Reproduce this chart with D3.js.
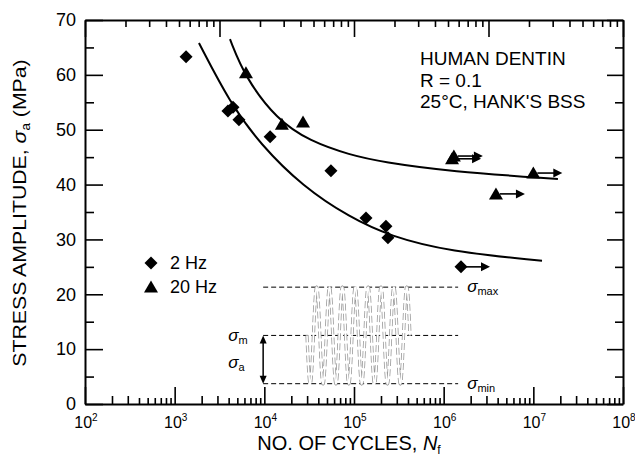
<!DOCTYPE html>
<html>
<head>
<meta charset="utf-8">
<script src="https://cdn.jsdelivr.net/npm/d3@7"></script>
<style>
  body { margin: 0; background: #fff; }
  svg { display: block; font-family: "Liberation Sans", Arial, Helvetica, sans-serif; }
</style>
</head>
<body>
<div id="chart"></div>
<script>
// 2 Hz tests (diamonds)
const cycles2Hz = [1340, 3930, 4470, 5210, 11600, 55300, 136000, 227000, 239000, 1560000]
const stress2Hz = [63.3, 53.4, 54.1, 51.8, 48.7, 42.5, 33.9, 32.4, 30.3, 25.0]
const runout2Hz = [false, false, false, false, false, false, false, false, false, true]

// 20 Hz tests (triangles)
const cycles20Hz = [6240, 15700, 27000, 1300000, 1240000, 3830000, 10000000]
const stress20Hz = [60.4, 51.0, 51.4, 45.2, 44.7, 38.3, 42.1]
const runout20Hz = [false, false, false, true, true, true, true]

// fitted curves
const fitCycles2Hz = [1866, 4140, 8950, 26980, 90150, 251800, 1150000, 12500000]
const fitStress2Hz = [65.8, 54.9, 47.4, 39.6, 34.0, 30.6, 27.8, 26.1]
const fitCycles20Hz = [4140, 6080, 13840, 32280, 90150, 208900, 1175000, 18800000]
const fitStress20Hz = [66.5, 59.6, 51.8, 47.9, 45.4, 44.1, 42.4, 41.0]

const yTicks = [0, 5, 10, 15, 20, 25, 30, 35, 40, 45, 50, 55, 60, 65, 70]
const xDecadeExp = [2, 3, 4, 5, 6, 7, 8]
const legendLabels = ['2 Hz', '20 Hz']
const noteLines = ['HUMAN DENTIN', 'R = 0.1', '25\u00b0C, HANK\'S BSS']

// schematic load wave (MPa / cycles)
const waveLevels = [21.3, 12.5, 3.7] // max, mean, min
const waveGuideCycles = [9700, 1450000]
const waveSpanCycles = [29900, 421000]
const waveCount = 8

const width = 635
const height = 459
const margin = { top: 20, right: 12, bottom: 55, left: 85 }
const W = width - margin.left - margin.right
const H = height - margin.top - margin.bottom

const svg = d3.select('#chart').append('svg')
  .attr('width', width)
  .attr('height', height)

const g = svg.append('g')
  .attr('transform', `translate(${margin.left},${margin.top})`)

const x = d3.scaleLog().domain([1e2, 1e8]).range([0, W])
const xTop = d3.scaleLog().domain([1e3, 1e7]).range([0, W])
const y = d3.scaleLinear().domain([0, 70]).range([H, 0])

const isDecade = d => Math.abs(Math.log10(d) - Math.round(Math.log10(d))) < 1e-9
const lead = d => Math.round(d / Math.pow(10, Math.floor(Math.log10(d) + 1e-9)))

// bottom axis
const gx = g.append('g')
  .attr('transform', `translate(0,${H})`)
  .call(d3.axisBottom(x).tickValues(x.ticks()).tickSize(0).tickFormat(''))
gx.selectAll('.tick line')
  .attr('y2', d => isDecade(d) ? -17 : (lead(d) <= 3 ? -8 : -6))

// top axis (different tick spacing in the original)
const gxt = g.append('g')
  .call(d3.axisTop(xTop).tickValues(xTop.ticks()).tickSize(0).tickFormat(''))
gxt.selectAll('.tick line')
  .attr('y2', d => isDecade(d) ? 17 : 7)

// left axis
const gy = g.append('g')
  .call(d3.axisLeft(y).tickValues(yTicks).tickSize(0).tickPadding(9)
    .tickFormat(d => d % 10 === 0 ? d : ''))
gy.selectAll('.tick line')
  .attr('x2', d => d % 10 === 0 ? 18 : 9)

// right axis
const gyr = g.append('g')
  .attr('transform', `translate(${W},0)`)
  .call(d3.axisRight(y).tickValues(yTicks).tickSize(0).tickFormat(''))
gyr.selectAll('.tick line')
  .attr('x2', d => d % 10 === 0 ? -16 : -8)

g.selectAll('.domain').attr('stroke', '#000').attr('stroke-width', 2)
g.selectAll('.tick line').attr('stroke', '#000').attr('stroke-width', 1.6)
gy.selectAll('.tick text').attr('font-size', 18).attr('fill', '#000')
  .attr('font-family', 'Liberation Sans, Arial, sans-serif')

// decade labels on bottom
const xl = g.append('g').selectAll('text').data(xDecadeExp).enter()
  .append('text')
  .attr('x', d => x(Math.pow(10, d)) + 1)
  .attr('y', H + 24)
  .attr('text-anchor', 'middle')
  .attr('font-size', 16)
xl.append('tspan').text('10')
xl.append('tspan').attr('font-size', 10).attr('dy', -7).text(d => d)

// axis titles
const xt = g.append('text')
  .attr('x', W / 2 - 5)
  .attr('y', H + 46)
  .attr('text-anchor', 'middle')
  .attr('font-size', 20)
xt.append('tspan').text('NO. OF CYCLES, ')
xt.append('tspan').attr('font-style', 'italic').text('N')
xt.append('tspan').attr('font-size', 12).attr('dy', 4).text('f')

const yt = g.append('text')
  .attr('transform', `translate(${26 - margin.left},${213 - margin.top}) rotate(-90) scale(1.12,1)`)
  .attr('text-anchor', 'middle')
  .attr('font-size', 19)
yt.append('tspan').text('STRESS AMPLITUDE, ')
yt.append('tspan').attr('font-style', 'italic').text('\u03c3')
yt.append('tspan').attr('font-size', 12).attr('dy', 4).text('a')
yt.append('tspan').attr('dy', -4).text(' (MPa)')

// fitted curves
const line = d3.line()
  .x(d => x(d[0]))
  .y(d => y(d[1]))
  .curve(d3.curveBasis)

const fits = [d3.zip(fitCycles2Hz, fitStress2Hz), d3.zip(fitCycles20Hz, fitStress20Hz)]
g.append('g').selectAll('path').data(fits).enter()
  .append('path')
  .attr('d', line)
  .attr('fill', 'none')
  .attr('stroke', '#000')
  .attr('stroke-width', 2)

// markers
const diamond = 'M0,-6.5L6.5,0L0,6.5L-6.5,0Z'
const triangle = 'M0,-6.5L7,5.5L-7,5.5Z'
const arrowHead = 'M0,0L-9,-4.5L-9,4.5Z'

const series = [
  { cycles: cycles2Hz, stress: stress2Hz, runout: runout2Hz, shape: diamond },
  { cycles: cycles20Hz, stress: stress20Hz, runout: runout20Hz, shape: triangle }
]

series.forEach(s => {
  const pts = s.cycles.map((c, i) => ({ c, v: s.stress[i], r: s.runout[i] }))
  const run = g.append('g').selectAll('g').data(pts.filter(p => p.r)).enter()
    .append('g')
    .attr('transform', p => `translate(${x(p.c)},${y(p.v)})`)
  run.append('line')
    .attr('x1', 4).attr('x2', 22)
    .attr('stroke', '#000').attr('stroke-width', 1.6)
  run.append('path')
    .attr('d', arrowHead)
    .attr('transform', 'translate(29,0)')
    .attr('fill', '#000')
  g.append('g').selectAll('path').data(pts).enter()
    .append('path')
    .attr('d', s.shape)
    .attr('transform', p => `translate(${x(p.c)},${y(p.v)})`)
    .attr('fill', '#000')
})

// legend
const leg = g.append('g').selectAll('g').data(legendLabels).enter()
  .append('g')
  .attr('transform', (d, i) => `translate(66,${243 + i * 24})`)
leg.append('path')
  .attr('d', (d, i) => i === 0 ? diamond : triangle)
  .attr('fill', '#000')
leg.append('text')
  .attr('x', 19)
  .attr('y', 6)
  .attr('font-size', 18)
  .text(d => d)

// note
g.append('g').selectAll('text').data(noteLines).enter()
  .append('text')
  .attr('x', 335)
  .attr('y', (d, i) => 45 + i * 21.5)
  .attr('font-size', 19)
  .text(d => d)

// schematic wave
const ins = g.append('g')
ins.selectAll('line.guide').data(waveLevels).enter()
  .append('line')
  .classed('guide', true)
  .attr('x1', x(waveGuideCycles[0]))
  .attr('x2', x(waveGuideCycles[1]))
  .attr('y1', d => y(d))
  .attr('y2', d => y(d))
  .attr('stroke', '#000')
  .attr('stroke-width', 1)
  .attr('stroke-dasharray', '5,3')

const wx0 = x(waveSpanCycles[0])
const wx1 = x(waveSpanCycles[1])
const amp = (waveLevels[0] - waveLevels[2]) / 2
const wavePts = d3.range(0, 801).map(i => {
  const t = i / 800
  return [wx0 + t * (wx1 - wx0), y(waveLevels[1] - amp * Math.sin(2 * Math.PI * waveCount * t))]
})
const wavePath = d3.line()(wavePts)
ins.append('path')
  .attr('d', wavePath)
  .attr('fill', 'none')
  .attr('stroke', '#9a9a9a')
  .attr('stroke-width', 3.2)
  .attr('stroke-dasharray', '7,3')
ins.append('path')
  .attr('d', wavePath)
  .attr('fill', 'none')
  .attr('stroke', '#fff')
  .attr('stroke-width', 1.6)

// double arrow for amplitude
const ax = x(waveGuideCycles[0])
ins.append('line')
  .attr('x1', ax).attr('x2', ax)
  .attr('y1', y(waveLevels[1]) + 6).attr('y2', y(waveLevels[2]) - 6)
  .attr('stroke', '#000').attr('stroke-width', 1.5)
ins.append('path')
  .attr('d', 'M0,0L-3.5,8L3.5,8Z')
  .attr('transform', `translate(${ax},${y(waveLevels[1])})`)
  .attr('fill', '#000')
ins.append('path')
  .attr('d', 'M0,0L-3.5,-8L3.5,-8Z')
  .attr('transform', `translate(${ax},${y(waveLevels[2])})`)
  .attr('fill', '#000')

const sigmaLabel = (sx, sy, sub) => {
  const t = ins.append('text').attr('x', sx).attr('y', sy).attr('font-size', 17)
  t.append('tspan').attr('font-style', 'italic').text('\u03c3')
  t.append('tspan').attr('font-size', 11).attr('dy', 3).text(sub)
}
const gx1 = x(waveGuideCycles[1])
sigmaLabel(gx1 + 9, y(waveLevels[0]) + 5, 'max')
sigmaLabel(gx1 + 9, y(waveLevels[2]) + 5, 'min')
sigmaLabel(ax - 35, y(waveLevels[1]) + 6, 'm')
sigmaLabel(ax - 35, y(waveLevels[1]) + 33, 'a')
</script>
</body>
</html>
